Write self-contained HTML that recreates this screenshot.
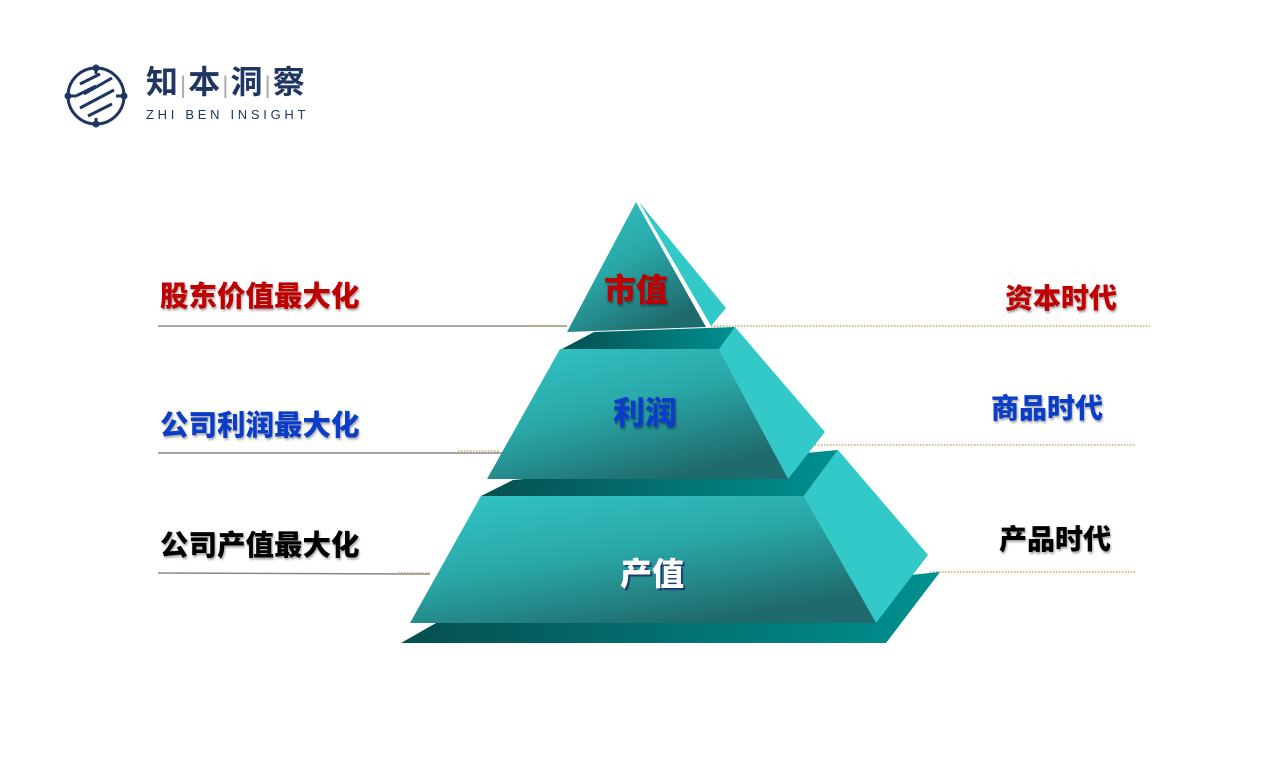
<!DOCTYPE html>
<html><head><meta charset="utf-8"><style>
html,body{margin:0;padding:0;background:#fff;}
body{width:1280px;height:760px;position:relative;overflow:hidden;font-family:"Liberation Sans","Noto Sans CJK SC",sans-serif;}
.t{position:absolute;font-weight:900;font-size:28.5px;white-space:nowrap;line-height:1;text-shadow:1px 2px 2px rgba(0,0,0,0.35);}
.r{font-size:28px;}
</style></head><body>
<svg width="1280" height="760" style="position:absolute;left:0;top:0">
<defs>
<linearGradient id="fg" x1="0" y1="0" x2="0.6" y2="1">
<stop offset="0" stop-color="#33c5c5"/><stop offset="0.5" stop-color="#2aa9a9"/><stop offset="1" stop-color="#1f6a6c"/>
</linearGradient>
<linearGradient id="lg" x1="0" y1="0" x2="1" y2="0">
<stop offset="0" stop-color="#064e50"/><stop offset="1" stop-color="#009090"/>
</linearGradient>
</defs>
<g stroke="#1f3562" fill="none" stroke-width="3">
<circle cx="96" cy="96" r="28"/>
<path d="M80 84 L100 74 M84 94 L112 78 M80 108 L114 90 M88 116 L112 104 M76 96 L96 86" stroke-width="3"/>
<path d="M68 96 L76 96 M116 96 L124 96 M96 68 L96 74 M96 118 L96 124"/>
</g>
<g fill="#1f3562"><circle cx="68" cy="96" r="3.5"/><circle cx="124" cy="96" r="3.5"/><circle cx="96" cy="68" r="3.5"/><circle cx="96" cy="124" r="3.5"/></g>
<g stroke="#888" stroke-width="1.5">
<line x1="158" y1="326" x2="567" y2="326"/>
<line x1="158" y1="453" x2="510" y2="453"/>
<line x1="158" y1="573" x2="430" y2="574"/>
</g>
<g stroke="#c8a860" stroke-width="1.5" stroke-dasharray="1.5 1.5">
<line x1="711" y1="326" x2="1150" y2="326"/>
<line x1="800" y1="445" x2="1135" y2="445"/>
<line x1="930" y1="572" x2="1135" y2="572"/>
<line x1="525" y1="326" x2="567" y2="326"/>
<line x1="458" y1="451" x2="500" y2="451"/>
<line x1="398" y1="573" x2="430" y2="573"/>
</g>
<polygon points="401,643 436,623 940,572 886,643" fill="url(#lg)"/>
<polygon points="481,496 513,480 838,450 804,496" fill="url(#lg)"/>
<polygon points="804,496 838,450 928,555 876,623" fill="#33c9c9"/>
<polygon points="481,496 804,496 876,623 410,623" fill="url(#fg)"/>
<polygon points="560,350 594,332 735,327 719,350" fill="url(#lg)"/>
<polygon points="719,349 735,327 825,432 788,479" fill="#33c9c9"/>
<polygon points="560,349 719,349 788,479 487,479" fill="url(#fg)"/>
<polygon points="639,202 726,308 711,326" fill="#33c9c9"/>
<polygon points="636,202 706,327 567,332" fill="url(#fg)"/>
<line x1="638" y1="202" x2="708" y2="326" stroke="#fff" stroke-width="1.5"/>
</svg>
<div style="position:absolute;left:146px;top:66px;font-size:32px;font-weight:bold;color:#1f3562;letter-spacing:2px;line-height:1;">知<span style="color:#aaa;font-size:24px;font-weight:normal">|</span>本<span style="color:#aaa;font-size:24px;font-weight:normal">|</span>洞<span style="color:#aaa;font-size:24px;font-weight:normal">|</span>察</div>
<div style="position:absolute;left:146px;top:108px;font-size:13px;color:#1f3562;letter-spacing:3.7px;line-height:1">ZHI BEN INSIGHT</div>

<div class="t" style="left:160px;top:283px;color:#c00000">股东价值最大化</div>
<div class="t" style="left:160px;top:412px;color:#0a3ec8">公司利润最大化</div>
<div class="t" style="left:160px;top:532px;color:#000">公司产值最大化</div>
<div class="t r" style="left:1005px;top:285px;color:#c00000">资本时代</div>
<div class="t r" style="left:991px;top:395px;color:#0a3ec8">商品时代</div>
<div class="t r" style="left:999px;top:526px;color:#000">产品时代</div>

<div class="t" style="left:604px;top:274px;color:#c00000;font-size:32px">市值</div>
<div class="t" style="left:613px;top:397px;color:#0a3ec8;font-size:32px">利润</div>
<div class="t" style="left:620px;top:558px;color:#fff;font-size:32px;text-shadow:2px 2px 1px #1a3a70">产值</div>
</body></html>
